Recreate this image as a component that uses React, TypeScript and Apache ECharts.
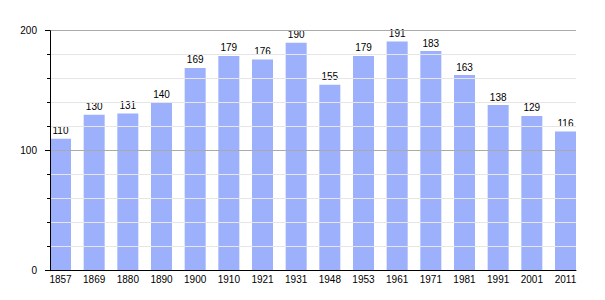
import React, { useEffect, useRef } from "react";
import * as echarts from "echarts";

const categories = ["1857", "1869", "1880", "1890", "1900", "1910", "1921", "1931", "1948", "1953", "1961", "1971", "1981", "1991", "2001", "2011"];
const population = [110, 130, 131, 140, 169, 179, 176, 190, 155, 179, 191, 183, 163, 138, 129, 116];
const yMin = 0;
const yMax = 200;
const yInterval = 100;

const FONT = "'Liberation Sans', Arial, Helvetica, sans-serif";

export default function App() {
  const ref = useRef<HTMLDivElement>(null);
  useEffect(() => {
    if (!ref.current) return;
    const chart = echarts.init(ref.current, undefined, { renderer: "svg" });
    chart.setOption({
      animation: false,
      backgroundColor: "#ffffff",
      textStyle: { fontFamily: FONT },
      grid: [
        { left: 43.67, right: 22.67, top: 30.7, bottom: 29.3 },
        { left: 50, right: 29, top: 30.7, bottom: 29.3 },
      ],
      xAxis: [
        {
          type: "category",
          gridIndex: 0,
          data: categories,
          axisLine: { show: false },
          axisTick: { show: false },
          axisLabel: { margin: 4, fontSize: 10, color: "#000", fontFamily: FONT },
        },
        {
          type: "category",
          gridIndex: 1,
          data: categories,
          z: 5,
          axisLine: { show: true, lineStyle: { color: "#000", width: 1 } },
          axisTick: { show: false },
          axisLabel: { show: false },
          splitLine: { show: false },
        },
      ],
      yAxis: [
        {
          type: "value",
          gridIndex: 0,
          min: yMin,
          max: yMax,
          interval: yInterval,
          show: false,
          splitLine: { show: false },
        },
        {
          type: "value",
          gridIndex: 1,
          min: yMin,
          max: yMax,
          interval: yInterval,
          z: 5,
          axisLine: { show: true, lineStyle: { color: "#000", width: 1 } },
          axisTick: { show: true, length: 5, lineStyle: { color: "#000" } },
          minorTick: { show: true, splitNumber: 5, length: 3, lineStyle: { color: "#000" } },
          axisLabel: { margin: 13, fontSize: 10, color: "#000", fontFamily: FONT },
          splitLine: { show: true, lineStyle: { color: "#aaaaaa", width: 1 } },
          minorSplitLine: { show: true, lineStyle: { color: "#e6e6e6", width: 1 } },
        },
      ],
      series: [
        {
          type: "bar",
          xAxisIndex: 0,
          yAxisIndex: 0,
          data: population,
          barWidth: 21,
          itemStyle: { color: "#9cb0fb" },
          label: {
            show: true,
            position: "top",
            distance: 3,
            fontSize: 10,
            color: "#000",
            fontFamily: FONT,
          },
        },
      ],
    });
    return () => chart.dispose();
  }, []);
  return (
    <div
      ref={ref}
      style={{ position: "absolute", left: 0, top: 0, width: 605, height: 300 }}
    />
  );
}
